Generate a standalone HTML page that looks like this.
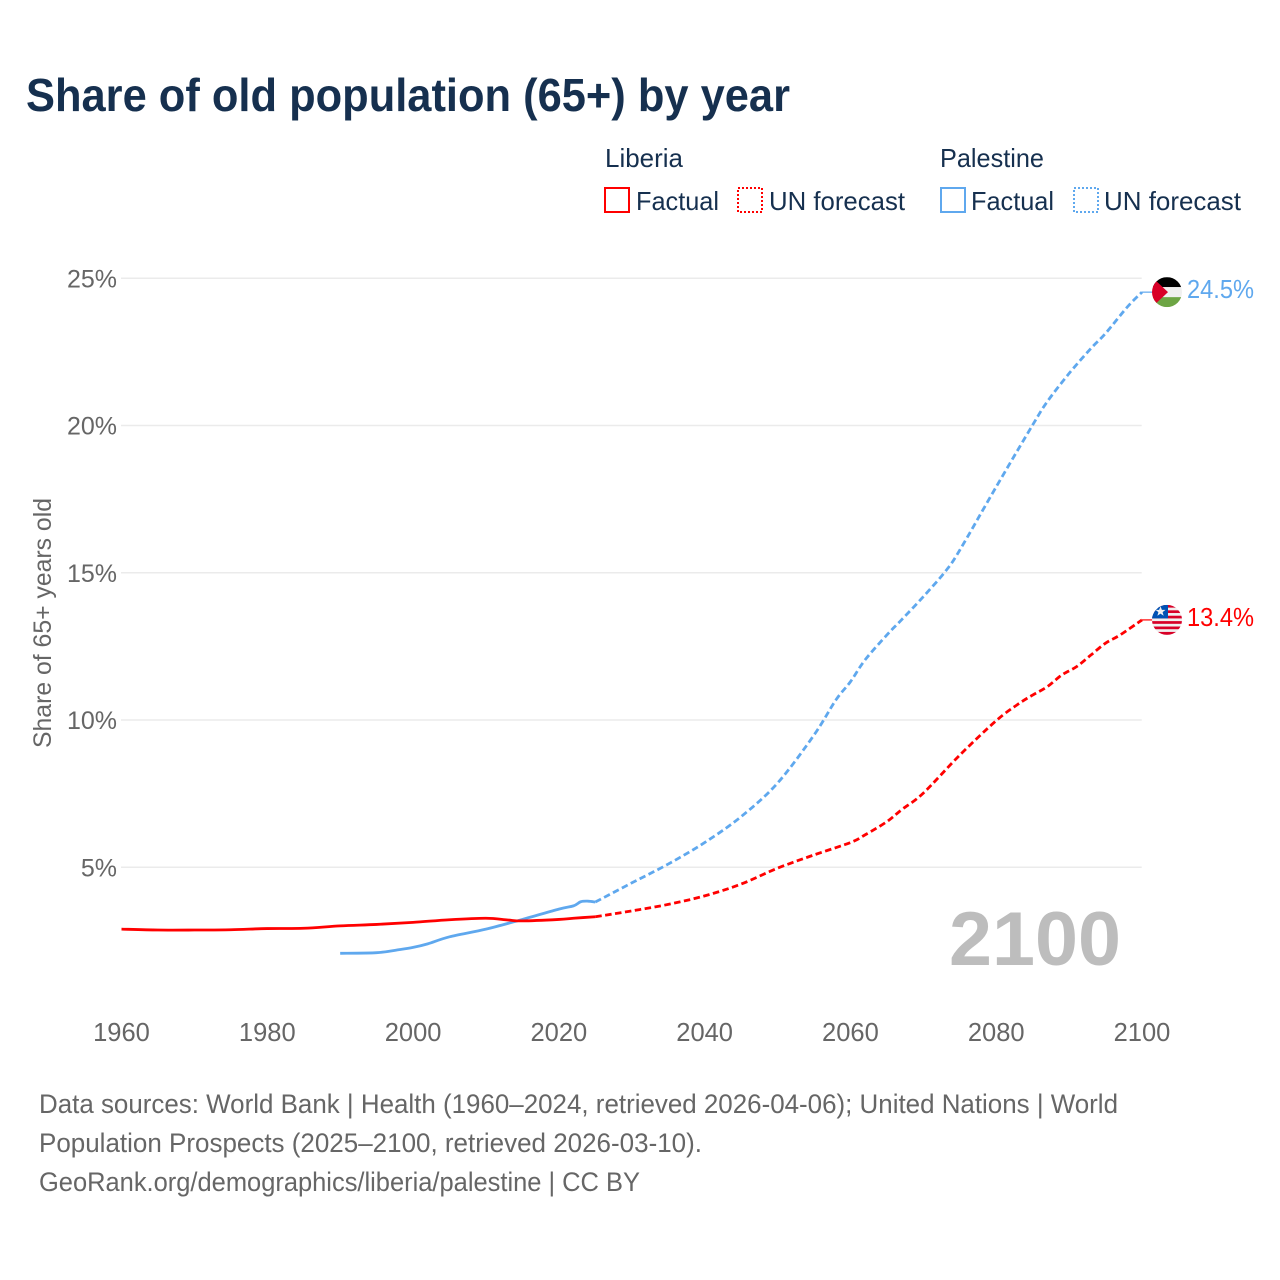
<!DOCTYPE html>
<html lang="en">
<head>
<meta charset="utf-8">
<title>Share of old population (65+) by year</title>
<style>
html,body{margin:0;padding:0;background:#fff;}
svg{display:block;font-family:"Liberation Sans",Arial,sans-serif;}
</style>
</head>
<body>
<svg id="chart" width="1280" height="1280" viewBox="0 0 1280 1280" xmlns="http://www.w3.org/2000/svg">
  <defs>
    <clipPath id="flag-clip-p"><circle id="clip-p" cx="1167" cy="292" r="15"/></clipPath>
    <clipPath id="flag-clip-l"><circle id="clip-l" cx="1167" cy="620" r="15"/></clipPath>
  </defs>
  <rect width="1280" height="1280" fill="#fff"/>
  <text x="26" y="111" font-size="46" font-weight="700" fill="#16304f" textLength="764" lengthAdjust="spacingAndGlyphs">Share of old population (65+) by year</text>

  <g font-size="26" fill="#16304f">
    <text x="605" y="167" textLength="78" lengthAdjust="spacingAndGlyphs">Liberia</text>
    <rect x="605" y="188" width="24" height="24" fill="none" stroke="#ff0000" stroke-width="2"/>
    <text x="636" y="210" textLength="83" lengthAdjust="spacingAndGlyphs">Factual</text>
    <rect x="738" y="188" width="24" height="24" fill="none" stroke="#ff0000" stroke-width="2" stroke-dasharray="2 2"/>
    <text x="769" y="210" textLength="136" lengthAdjust="spacingAndGlyphs">UN forecast</text>
    <text x="940" y="167" textLength="104" lengthAdjust="spacingAndGlyphs">Palestine</text>
    <rect x="941" y="188" width="24" height="24" fill="none" stroke="#5fa8ee" stroke-width="2"/>
    <text x="971" y="210" textLength="83" lengthAdjust="spacingAndGlyphs">Factual</text>
    <rect x="1074" y="188" width="24" height="24" fill="none" stroke="#5fa8ee" stroke-width="2" stroke-dasharray="2 2"/>
    <text x="1104" y="210" textLength="137" lengthAdjust="spacingAndGlyphs">UN forecast</text>
  </g>

  <text transform="translate(51,623) rotate(-90)" text-anchor="middle" font-size="25" fill="#666666" textLength="250" lengthAdjust="spacingAndGlyphs">Share of 65+ years old</text>

  <g id="grid"></g>
  <g id="y-axis"></g>
  <g id="x-axis"></g>

  <text x="949" y="965" font-size="76" font-weight="700" fill="#bdbdbd" textLength="172" lengthAdjust="spacingAndGlyphs">2100</text>

  <g id="series"></g>

  <g id="flag-palestine" clip-path="url(#flag-clip-p)">
    <rect x="1152" y="277" width="30" height="10" fill="#000000"/>
    <rect x="1152" y="287" width="30" height="10" fill="#f0f0f0"/>
    <rect x="1152" y="297" width="30" height="10" fill="#6da544"/>
    <polygon points="1152,277 1168,292 1152,307" fill="#d80027"/>
  </g>
  <g id="flag-liberia" clip-path="url(#flag-clip-l)">
    <rect x="1152" y="605" width="30" height="30" fill="#f0f0f0"/>
    <rect x="1152" y="605" width="30" height="2.7" fill="#d80027"/>
    <rect x="1152" y="610.4" width="30" height="2.7" fill="#d80027"/>
    <rect x="1152" y="615.8" width="30" height="2.7" fill="#d80027"/>
    <rect x="1152" y="621.2" width="30" height="2.7" fill="#d80027"/>
    <rect x="1152" y="626.6" width="30" height="2.7" fill="#d80027"/>
    <rect x="1152" y="632" width="30" height="3" fill="#d80027"/>
    <rect x="1152" y="605" width="16" height="13.5" fill="#0052b4"/>
    <polygon points="1160.5,606.5 1161.9,610 1165.5,610 1162.6,612.2 1163.6,615.8 1160.5,613.7 1157.4,615.8 1158.4,612.2 1155.5,610 1159.1,610" fill="#f0f0f0"/>
  </g>

  <g font-size="26.5" fill="#666666">
    <text x="39" y="1113" textLength="1079" lengthAdjust="spacingAndGlyphs">Data sources: World Bank | Health (1960–2024, retrieved 2026-04-06); United Nations | World</text>
    <text x="39" y="1152" textLength="663" lengthAdjust="spacingAndGlyphs">Population Prospects (2025–2100, retrieved 2026-03-10).</text>
    <text x="39" y="1191" textLength="601" lengthAdjust="spacingAndGlyphs">GeoRank.org/demographics/liberia/palestine | CC BY</text>
  </g>
</svg>
<script>
const yTicks = [5, 10, 15, 20, 25];
const xTicks = [1960, 1980, 2000, 2020, 2040, 2060, 2080, 2100];

const liberiaFactualYears = [1960, 1965, 1970, 1975, 1980, 1985, 1990, 1995, 2000, 2005, 2010, 2013, 2015, 2020, 2022, 2025];
const liberiaFactualValues = [2.90, 2.87, 2.87, 2.88, 2.92, 2.93, 3.01, 3.06, 3.13, 3.22, 3.27, 3.21, 3.18, 3.23, 3.27, 3.32];
const liberiaForecastYears = [2025, 2030, 2035, 2040, 2045, 2050, 2055, 2060, 2062, 2065, 2067, 2070, 2075, 2080, 2083, 2085, 2087, 2089, 2091, 2093, 2095, 2097, 2100];
const liberiaForecastValues = [3.32, 3.52, 3.74, 4.03, 4.43, 4.97, 5.42, 5.84, 6.10, 6.55, 6.95, 7.52, 8.81, 9.98, 10.54, 10.85, 11.13, 11.53, 11.81, 12.21, 12.61, 12.89, 13.40];

const palestineFactualYears = [1990, 1995, 1998, 2000, 2002, 2005, 2010, 2015, 2020, 2022, 2023, 2024, 2025];
const palestineFactualValues = [2.08, 2.10, 2.20, 2.28, 2.40, 2.64, 2.90, 3.23, 3.58, 3.69, 3.83, 3.85, 3.82];
const palestineForecastYears = [2025, 2030, 2035, 2040, 2045, 2050, 2055, 2058, 2060, 2062, 2065, 2067, 2070, 2073, 2075, 2080, 2085, 2087, 2090, 2093, 2095, 2098, 2100];
const palestineForecastValues = [3.82, 4.47, 5.11, 5.84, 6.72, 7.86, 9.49, 10.68, 11.30, 12.04, 12.89, 13.40, 14.19, 15.04, 15.77, 17.92, 20.02, 20.81, 21.77, 22.62, 23.13, 24.03, 24.53];

const NS = 'http://www.w3.org/2000/svg';
const xScale = year => 121.5 + (year - 1960) * (1142 - 121.5) / 140;
const yScale = value => 867.3 - (value - 5) * (867.3 - 278.3) / 20;
const make = (tag, parent) => {
  const el = document.createElementNS(NS, tag);
  parent.appendChild(el);
  return el;
};

const grid = document.getElementById('grid');
const yAxis = document.getElementById('y-axis');
const xAxis = document.getElementById('x-axis');
const seriesGroup = document.getElementById('series');

yTicks.forEach(tick => {
  const line = make('line', grid);
  
  
  line.setAttribute('x1', 121);
  line.setAttribute('x2', 1141.7);
  line.setAttribute('y1', yScale(tick));
  line.setAttribute('y2', yScale(tick));
  line.setAttribute('stroke', '#ebebeb');
  line.setAttribute('stroke-width', 1.5);

  const label = make('text', yAxis);
  
  
  label.setAttribute('x', 117);
  label.setAttribute('y', yScale(tick) + 9);
  label.setAttribute('text-anchor', 'end');
  label.setAttribute('font-size', 25);
  label.setAttribute('fill', '#666666');
  label.textContent = tick + '%';
});

xTicks.forEach(tick => {
  const label = make('text', xAxis);
  
  
  label.setAttribute('x', xScale(tick));
  label.setAttribute('y', 1041);
  label.setAttribute('text-anchor', 'middle');
  label.setAttribute('font-size', 25.5);
  label.setAttribute('fill', '#666666');
  label.textContent = tick;
});

function pathFor(years, values) {
  const pts = years.map((year, i) => [xScale(year), yScale(values[i])]);
  let d = 'M' + pts[0][0].toFixed(2) + ',' + pts[0][1].toFixed(2);
  for (let i = 0; i < pts.length - 1; i++) {
    const p0 = pts[Math.max(i - 1, 0)];
    const p1 = pts[i];
    const p2 = pts[i + 1];
    const p3 = pts[Math.min(i + 2, pts.length - 1)];
    const c1x = p1[0] + (p2[0] - p0[0]) / 6;
    const c1y = p1[1] + (p2[1] - p0[1]) / 6;
    const c2x = p2[0] - (p3[0] - p1[0]) / 6;
    const c2y = p2[1] - (p3[1] - p1[1]) / 6;
    d += 'C' + c1x.toFixed(2) + ',' + c1y.toFixed(2) + ' ' + c2x.toFixed(2) + ',' + c2y.toFixed(2) + ' ' + p2[0].toFixed(2) + ',' + p2[1].toFixed(2);
  }
  return d;
}

function drawLine(name, years, values, color, dashed) {
  const line = make('path', seriesGroup);
  
  
  line.setAttribute('d', pathFor(years, values));
  line.setAttribute('fill', 'none');
  line.setAttribute('stroke', color);
  line.setAttribute('stroke-width', 2.8);
  line.setAttribute('stroke-linejoin', 'round');
  if (dashed) line.setAttribute('stroke-dasharray', '6.5 3.5');
}

function drawEnd(name, values, color, flagId, baseY) {
  const last = values[values.length - 1];
  const y = yScale(last);
  const connector = make('line', seriesGroup);
  
  
  connector.setAttribute('x1', xScale(2100));
  connector.setAttribute('x2', 1153);
  connector.setAttribute('y1', y);
  connector.setAttribute('y2', y);
  connector.setAttribute('stroke', color);
  connector.setAttribute('stroke-width', 1.2);

  const label = make('text', seriesGroup);
  
  
  label.setAttribute('x', 1187);
  label.setAttribute('y', y + 6);
  label.setAttribute('font-size', 25.5);
  label.setAttribute('fill', color);
  label.setAttribute('textLength', 67);
  label.setAttribute('lengthAdjust', 'spacingAndGlyphs');
  label.textContent = last.toFixed(1) + '%';

  document.getElementById(flagId).setAttribute('transform', 'translate(0,' + (y - baseY) + ')');
}

drawLine('palestine-forecast-line', palestineForecastYears, palestineForecastValues, '#5fa8ee', true);
drawLine('liberia-forecast-line', liberiaForecastYears, liberiaForecastValues, '#ff0000', true);
drawLine('palestine-factual-line', palestineFactualYears, palestineFactualValues, '#5fa8ee', false);
drawLine('liberia-factual-line', liberiaFactualYears, liberiaFactualValues, '#ff0000', false);
drawEnd('palestine', palestineForecastValues, '#5fa8ee', 'flag-palestine', 292);
drawEnd('liberia', liberiaForecastValues, '#ff0000', 'flag-liberia', 620);
</script>
</body>
</html>
